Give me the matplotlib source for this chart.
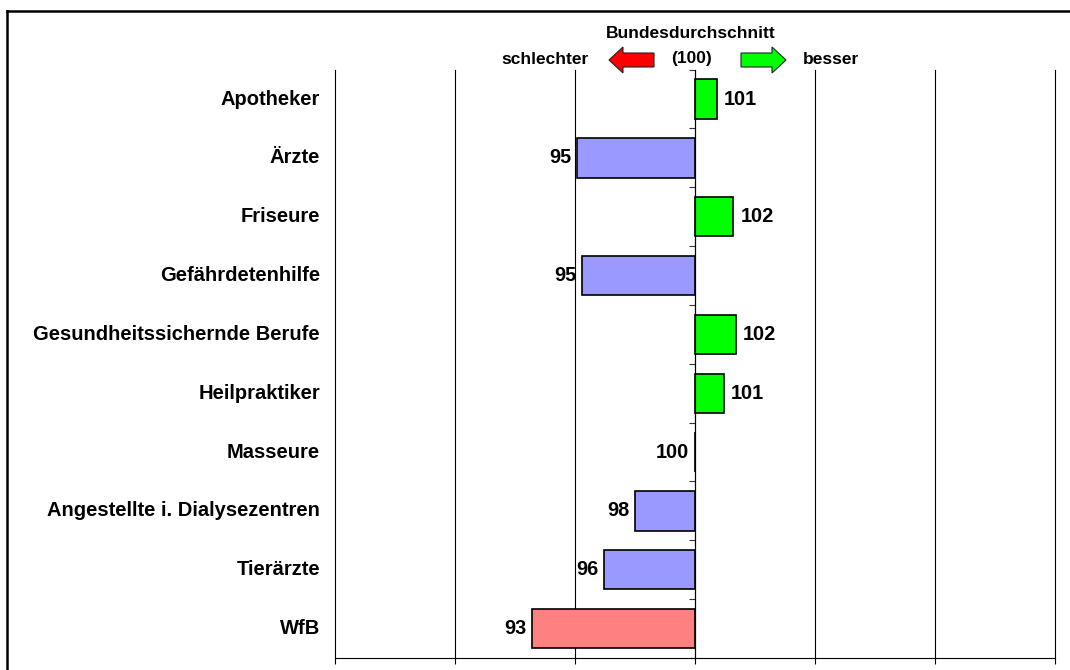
import matplotlib
matplotlib.use('Agg')
import matplotlib.pyplot as plt
from matplotlib.lines import Line2D
from matplotlib.patches import Polygon
from matplotlib.ticker import FixedLocator, NullFormatter

plt.rcParams['font.family'] = ['Liberation Sans', 'DejaVu Sans']
plt.rcParams['font.weight'] = 'bold'

# index relative to the national average (100)
berufe = ['Apotheker', 'Ärzte', 'Friseure', 'Gefährdetenhilfe',
          'Gesundheitssichernde Berufe', 'Heilpraktiker', 'Masseure',
          'Angestellte i. Dialysezentren', 'Tierärzte', 'WfB']
index = [100.9, 95.1, 101.6, 95.3, 101.7, 101.2, 100.0, 97.5, 96.2, 93.2]
farben = ['#00FF00', '#9999FF', '#00FF00', '#9999FF', '#00FF00', '#00FF00',
          '#00FF00', '#9999FF', '#9999FF', '#FF8080']

basis = 100
x_ticks = [85, 90, 95, 100, 105, 110, 115]

W, H = 1070, 670
fig = plt.figure(figsize=(W / 100, H / 100), dpi=100)
ax = fig.add_axes([335 / W, 12 / H, 720 / W, 588.4 / H])


def px(x, y):
    # pixel position (from top-left) -> figure fraction
    return x / W, 1 - y / H


pos = list(range(len(berufe)))
ax.barh(pos, [v - basis for v in index], left=basis, height=0.67,
        color=farben, edgecolor='black', linewidth=1.2, zorder=3)

for p, v in zip(pos, index):
    if v > basis:
        ax.annotate('%.0f' % v, (v, p), xytext=(5, 0), textcoords='offset points',
                    ha='left', va='center', fontsize=14.3, fontweight='bold')
    else:
        ax.annotate('%.0f' % v, (v, p), xytext=(-4, 0), textcoords='offset points',
                    ha='right', va='center', fontsize=14.3, fontweight='bold')
    ax.text(-0.021, p, berufe[p], transform=ax.get_yaxis_transform(),
            ha='right', va='center', fontsize=14.5, fontweight='bold')

ax.set_xlim(x_ticks[0], x_ticks[-1])
ax.set_ylim(len(berufe) - 0.5, -0.5)

ax.xaxis.set_major_locator(FixedLocator(x_ticks))
ax.xaxis.set_major_formatter(NullFormatter())
ax.tick_params(axis='x', direction='out', length=4.5, width=0.8, color='black')
ax.grid(axis='x', color='black', linewidth=0.8)
for g in ax.get_xgridlines():
    g.set_clip_on(False)
ax.set_axisbelow(True)

# category axis sits on the average line
ax.spines['left'].set_position(('data', basis))
ax.spines['left'].set_zorder(4)
ax.spines['top'].set_visible(False)
ax.spines['right'].set_visible(False)
ax.spines['bottom'].set_linewidth(0.8)
ax.spines['left'].set_linewidth(0.8)
ax.yaxis.set_major_locator(FixedLocator([]))
ax.yaxis.set_minor_locator(FixedLocator([i - 0.5 for i in range(len(berufe) + 1)]))
ax.yaxis.set_minor_formatter(NullFormatter())
ax.tick_params(axis='y', which='minor', direction='out', length=4.5, width=0.8,
               color='#333333')

# header: average marker with arrows
fig.text(*px(691, 34), 'Bundesdurchschnitt', ha='center', va='center',
         fontsize=12.5, fontweight='bold')
fig.text(*px(691, 59), '(100)', ha='center', va='center',
         fontsize=12.5, fontweight='bold')
fig.text(*px(545, 59), 'schlechter', ha='center', va='center',
         fontsize=12.5, fontweight='bold')
fig.text(*px(831, 59), 'besser', ha='center', va='center',
         fontsize=12.5, fontweight='bold')

links = [(609, 60), (623, 47), (623, 53), (654, 53), (654, 67), (623, 67), (623, 73)]
rechts = [(786, 60), (772, 47), (772, 53), (741, 53), (741, 67), (772, 67), (772, 73)]
fig.add_artist(Polygon([px(x, y) for x, y in links], closed=True,
                       facecolor='#FF0000', edgecolor='#222222', linewidth=0.8))
fig.add_artist(Polygon([px(x, y) for x, y in rechts], closed=True,
                       facecolor='#00FF00', edgecolor='#222222', linewidth=0.8))

# outer frame
fig.add_artist(Line2D([7 / W, 1.0], [1 - 11 / H, 1 - 11 / H], color='black', linewidth=1.8))
fig.add_artist(Line2D([7 / W, 7 / W], [0.0, 1 - 11 / H], color='black', linewidth=1.8))

fig.savefig('out.png', dpi=100)
